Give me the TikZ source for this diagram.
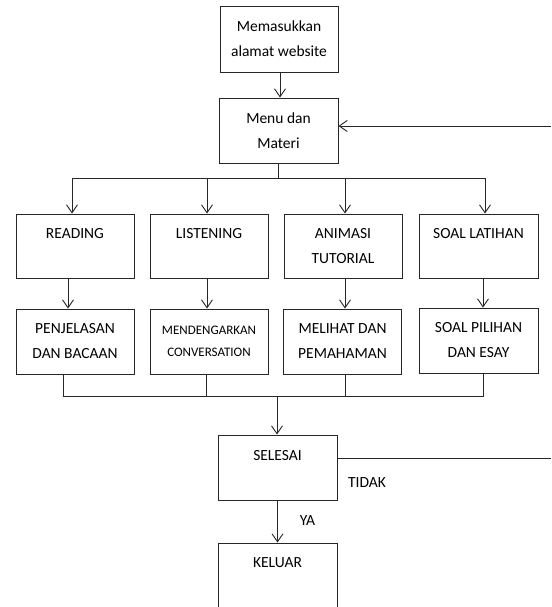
\documentclass[tikz,border=0pt]{standalone}
\usepackage{fontspec}
\setmainfont{Carlito}
\usetikzlibrary{arrows.meta,calc}
\tikzset{
  box/.style={draw=black!85, line width=0.9pt, fill=white, minimum width=118pt, minimum height=65pt, inner sep=0pt, align=center, font=\fontsize{15.5}{25}\selectfont},
  smallbox/.style={box, font=\fontsize{13}{22}\selectfont},
  conn/.style={draw=black!85, line width=0.9pt},
  arr/.style={conn, -{Straight Barb[length=8pt,width=11pt]}},
  lbl/.style={inner sep=0pt, font=\fontsize{15.5}{18}\selectfont}
}
\begin{document}
\begin{tikzpicture}[x=1pt,y=-1pt]
\fill[white] (0,0) rectangle (551,607);
\useasboundingbox (0,0) rectangle (551,607);
\clip (0,0) rectangle (551,607);
% boxes
\node[box, minimum height=66pt] (b1) at (279,39) {Memasukkan\\alamat website};
\node[box, minimum height=65pt, minimum width=119pt] (menu) at (278.5,130.5) {Menu dan\\Materi};
\node[box, minimum height=64pt] (read) at (75,246) {READING\\\mbox{}};
\node[box, minimum height=64pt] (listen) at (209,246) {LISTENING\\\mbox{}};
\node[box, minimum height=64pt] (anim) at (343,246) {ANIMASI\\TUTORIAL};
\node[box, minimum height=64pt, minimum width=119pt] (soal) at (478.5,246) {SOAL LATIHAN\\\mbox{}};
\node[box] (pen) at (75,341.5) {PENJELASAN\\DAN BACAAN};
\node[smallbox] (mend) at (209,341.5) {MENDENGARKAN\\CONVERSATION};
\node[box] (mel) at (342.5,341.5) {MELIHAT DAN\\PEMAHAMAN};
\node[box, minimum width=119pt] (sp) at (478.5,340.5) {SOAL PILIHAN\\DAN ESAY};
\node[box, minimum width=119pt] (sel) at (277.5,467.5) {SELESAI\\\mbox{}};
\node[box, minimum width=119pt] (kel) at (277.5,575.5) {KELUAR\\\mbox{}};
% labels
\node[lbl] (tidak) at (367,483) {TIDAK};
\node[lbl] (ya) at (307.5,521) {YA};
% coordinates
\coordinate (bus1) at (278.5,178);
\coordinate (t1) at (72,178);
\coordinate (t2) at (207,178);
\coordinate (t3) at (345,178);
\coordinate (t4) at (485,178);
\coordinate (bus2) at (277,396);
\coordinate (u1) at (63,396);
\coordinate (u2) at (206,396);
\coordinate (u3) at (345,396);
\coordinate (u4) at (483,396);
\coordinate (retin) at (551,126);
\coordinate (retout) at (551,458);
% connectors
\draw[arr] (b1.south -| 280,0) -- (menu.north -| 280,0);
\draw[conn] (menu.south -| bus1) -- (bus1);
\draw[conn] (t1) -- (t4);
\draw[arr] (t1) -- (t1 |- read.north);
\draw[arr] (t2) -- (t2 |- listen.north);
\draw[arr] (t3) -- (t3 |- anim.north);
\draw[arr] (t4) -- (t4 |- soal.north);
\draw[arr] ([xshift=-7pt]read.south) -- ([xshift=-7pt]pen.north);
\draw[arr] ([xshift=-2pt]listen.south) -- ([xshift=-2pt]mend.north);
\draw[arr] ([xshift=2pt]anim.south) -- ([xshift=2.5pt]mel.north);
\draw[arr] ([xshift=4.5pt]soal.south) -- ([xshift=4.5pt]sp.north);
\draw[conn] (u1 |- pen.south) -- (u1) -- (u4) -- (u4 |- sp.south);
\draw[conn] (u2 |- mend.south) -- (u2);
\draw[conn] (u3 |- mel.south) -- (u3);
\draw[arr] (bus2) -- (bus2 |- sel.north);
\draw[arr] (sel.south) -- (kel.north);
\draw[conn] (sel.east |- retout) -- (retout);
\draw[arr] (retin) -- (menu.east |- retin);
\end{tikzpicture}
\end{document}
